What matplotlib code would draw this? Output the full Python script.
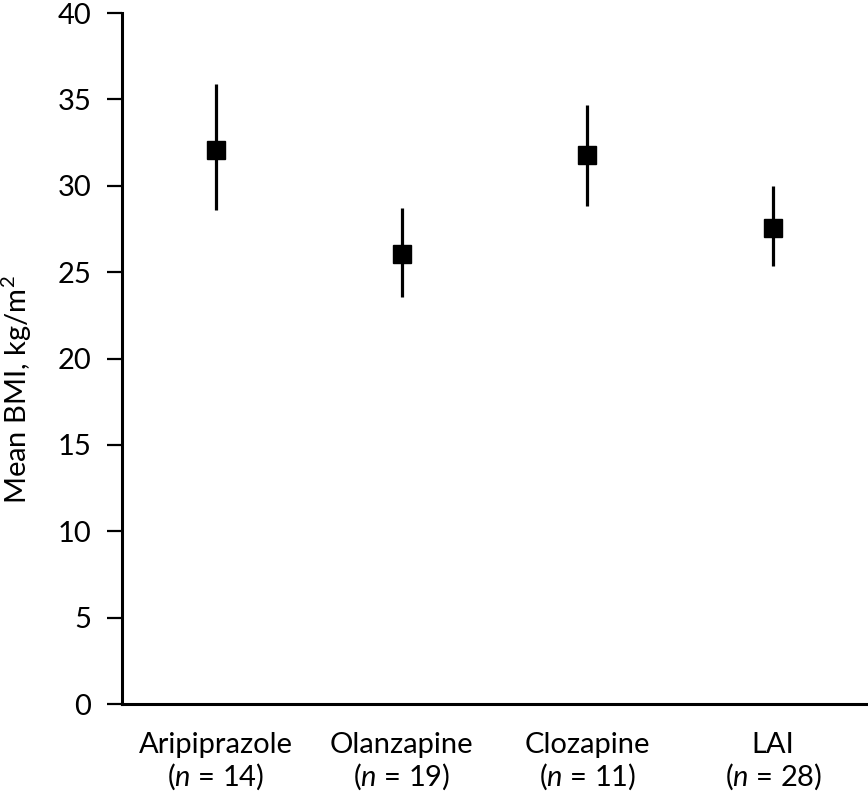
import matplotlib.pyplot as plt

plt.rcParams['font.family'] = ['Lato', 'DejaVu Sans']
plt.rcParams['mathtext.fontset'] = 'custom'
plt.rcParams['mathtext.rm'] = 'Lato'
plt.rcParams['mathtext.it'] = 'Lato:italic'

drugs = ['Aripiprazole', 'Olanzapine', 'Clozapine', 'LAI']
n_vals = [14, 19, 11, 28]
mean_bmi = [32.05, 26.05, 31.8, 27.55]
lower = [28.6, 23.55, 28.85, 25.35]
upper = [35.9, 28.7, 34.7, 30.0]

x = list(range(len(drugs)))
err_lo = [m - l for m, l in zip(mean_bmi, lower)]
err_hi = [u - m for m, u in zip(mean_bmi, upper)]

fig = plt.figure(figsize=(8.68, 7.93), dpi=100)
ax = fig.add_axes([0.1406, 0.1122, 0.8594, 0.8714])

ax.errorbar(x, mean_bmi, yerr=[err_lo, err_hi], fmt='s', color='black',
            markersize=13.5, elinewidth=2.3, capsize=0)

ax.set_xlim(-0.505, 3.51)
ax.set_ylim(0, 40)
ax.set_yticks(range(0, 41, 5))
ax.set_xticks(x)
ax.set_xticklabels([f'{d}\n($n$ = {n})' for d, n in zip(drugs, n_vals)],
                   fontsize=21, linespacing=1.15)
ax.tick_params(axis='x', length=0, pad=20)
ax.tick_params(axis='y', length=11, width=1.6, labelsize=21, pad=11)

ax.spines['top'].set_visible(False)
ax.spines['right'].set_visible(False)
ax.spines['left'].set_linewidth(2.2)
ax.spines['bottom'].set_linewidth(2.2)

ax.set_ylabel('Mean BMI, kg/m$^2$', fontsize=21)
ax.yaxis.set_label_coords(-0.118, 0.455)

fig.savefig('out.png', dpi=100)
